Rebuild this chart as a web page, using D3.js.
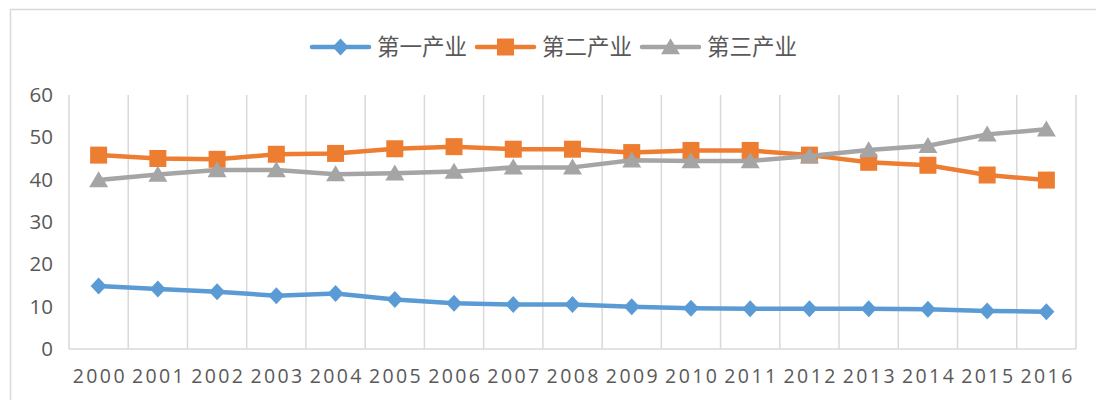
<!DOCTYPE html>
<html>
<head>
<meta charset="utf-8">
<script src="https://cdn.jsdelivr.net/npm/d3@7"></script>
<style>
  html, body { margin: 0; padding: 0; background: #fff; }
  svg { display: block; }
</style>
</head>
<body>
<svg id="chart" width="1096" height="400"></svg>
<script>
// Share of GDP by sector (%), 2000–2016
const years = ["2000","2001","2002","2003","2004","2005","2006","2007","2008",
               "2009","2010","2011","2012","2013","2014","2015","2016"];
const primary   = [14.9, 14.2, 13.5, 12.6, 13.1, 11.7, 10.8, 10.5, 10.5,
                   10.0, 9.6, 9.5, 9.5, 9.5, 9.4, 9.0, 8.8];
const secondary = [45.8, 45.0, 44.8, 46.0, 46.2, 47.3, 47.8, 47.2, 47.2,
                   46.4, 46.9, 46.9, 45.8, 44.1, 43.4, 41.1, 39.9];
const tertiary  = [39.9, 41.2, 42.3, 42.3, 41.3, 41.5, 41.9, 42.9, 42.9,
                   44.6, 44.4, 44.4, 45.6, 47.0, 48.0, 50.7, 51.9];
const seriesNames = ["第一产业", "第二产业", "第三产业"];
const yTicks = [0, 10, 20, 30, 40, 50, 60];

const colors = ["#5B9BD5", "#ED7D31", "#A5A5A5"];
const shapes = ["diamond", "square", "triangle"];
const seriesValues = [primary, secondary, tertiary];

const svg = d3.select("#chart");

// outer frame
svg.append("rect")
  .attr("x", 10.5).attr("y", 9.5)
  .attr("width", 1200).attr("height", 500)
  .attr("fill", "none").attr("stroke", "#d9d9d9").attr("stroke-width", 1.5);

const x = d3.scaleBand().domain(years).range([69, 1076]).paddingInner(0).paddingOuter(0);
const y = d3.scaleLinear().domain([0, 60]).range([349, 95]);
const cx = d => x(d) + x.bandwidth() / 2;

// vertical gridlines on category boundaries
const bounds = years.map(d => x(d)).concat([x.range()[1]]);
svg.append("g").selectAll("line").data(bounds).join("line")
  .attr("x1", d => d).attr("x2", d => d)
  .attr("y1", y(60)).attr("y2", y(0))
  .attr("stroke", "#d9d9d9").attr("stroke-width", 1.5);

// baseline
svg.append("line")
  .attr("x1", x.range()[0]).attr("x2", x.range()[1])
  .attr("y1", y(0)).attr("y2", y(0))
  .attr("stroke", "#d9d9d9").attr("stroke-width", 1.5);

// y axis labels
const yAxis = svg.append("g").attr("transform", `translate(${x.range()[0]},0)`)
  .call(d3.axisLeft(y).tickValues(yTicks).tickSize(0).tickPadding(16).tickFormat(d3.format("d")));
yAxis.select(".domain").remove();
yAxis.selectAll("text")
  .attr("font-family", "'Open Sans', 'Liberation Sans', sans-serif")
  .attr("font-size", 20.5).attr("fill", "#595959");

// x axis labels
const xAxis = svg.append("g").attr("transform", `translate(0,${y(0)})`)
  .call(d3.axisBottom(x).tickSize(0).tickPadding(20));
xAxis.select(".domain").remove();
xAxis.selectAll("text")
  .attr("font-family", "'Open Sans', 'Liberation Sans', sans-serif")
  .attr("font-size", 19.5).attr("fill", "#595959")
  .attr("letter-spacing", "2.4px").attr("dx", "1.2px");

// marker shapes
function markerPath(shape) {
  if (shape === "diamond") {
    const w = 8, h = 8.5;
    return `M0,${-h}L${w},0L0,${h}L${-w},0Z`;
  }
  if (shape === "square") {
    const s = 8.5;
    return `M${-s},${-s}H${s}V${s}H${-s}Z`;
  }
  const w = 9.5, h = 16;
  return `M0,${-h * 0.55}L${w},${h * 0.45}L${-w},${h * 0.45}Z`;
}

const line = d3.line().x((d, i) => cx(years[i])).y(d => y(d));

seriesValues.forEach((vals, k) => {
  const g = svg.append("g");
  g.append("path").datum(vals)
    .attr("d", line)
    .attr("fill", "none")
    .attr("stroke", colors[k])
    .attr("stroke-width", 4.5)
    .attr("stroke-linejoin", "round")
    .attr("stroke-linecap", "round");
  g.selectAll("path.marker").data(vals).join("path")
    .attr("class", "marker")
    .attr("transform", (d, i) => `translate(${cx(years[i])},${y(d)})`)
    .attr("d", markerPath(shapes[k]))
    .attr("fill", colors[k]);
});

// legend
const legendX = [312, 477, 642];
const legend = svg.append("g");
seriesNames.forEach((name, k) => {
  const item = legend.append("g").attr("transform", `translate(${legendX[k]},47)`);
  item.append("line")
    .attr("x1", 0).attr("x2", 57).attr("y1", 0).attr("y2", 0)
    .attr("stroke", colors[k]).attr("stroke-width", 4.5).attr("stroke-linecap", "round");
  item.append("path")
    .attr("transform", "translate(28.5,0)")
    .attr("d", markerPath(shapes[k]))
    .attr("fill", colors[k]);
  item.append("text")
    .attr("x", 65).attr("y", 0).attr("dy", "0.36em")
    .attr("font-family", "'Noto Sans CJK SC', sans-serif")
    .attr("font-size", 22.5).attr("fill", "#595959")
    .text(name);
});
</script>
</body>
</html>
